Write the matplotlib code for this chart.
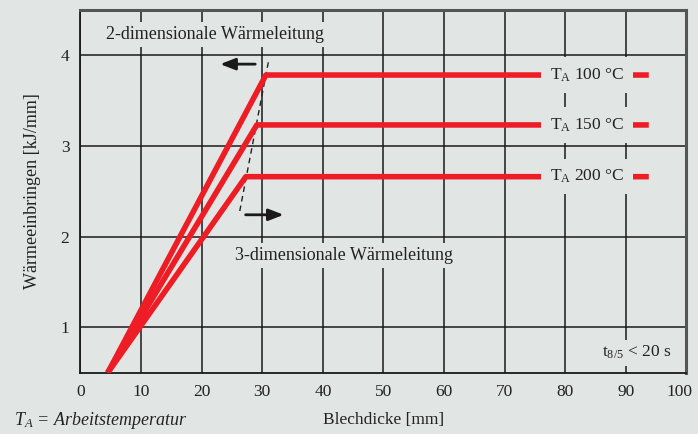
import matplotlib.pyplot as plt
import matplotlib.transforms as mtransforms
import numpy as np

plt.rcParams['font.family'] = ['Liberation Serif', 'DejaVu Serif']
plt.rcParams['mathtext.fontset'] = 'custom'
plt.rcParams['mathtext.rm'] = 'Liberation Serif'
plt.rcParams['mathtext.it'] = 'Liberation Serif:italic'

# Wärmeeinbringen-Kurven je Arbeitstemperatur
temps = ['100', '150', '200']
curve_x = [[4.5, 30.6, 93.8],
           [4.5, 29.1, 93.8],
           [4.5, 27.3, 93.8]]
curve_y = [[0.5, 3.78, 3.78],
           [0.5, 3.23, 3.23],
           [0.5, 2.66, 2.66]]
label_x = 83.6

# Grenze 2-/3-dimensionale Wärmeleitung
border_x = [31.0, 26.2]
border_y = [3.92, 2.25]

xticks = [0, 10, 20, 30, 40, 50, 60, 70, 80, 90, 100]
yticks = [1, 2, 3, 4]

bg = '#e1e5e3'
red = '#ee1c25'
ink = '#222222'

fig = plt.figure(figsize=(6.98, 4.34), dpi=100, facecolor=bg)
ax = fig.add_axes([0.1153, 0.1412, 0.868, 0.8365])
ax.set_facecolor(bg)
ax.set_xlim(0, 100)
ax.set_ylim(0.5, 4.5)
ax.set_xticks(xticks)
ax.set_yticks(yticks)
ax.grid(True, color='#1a1a1a', linewidth=1.1)
ax.set_axisbelow(True)
ax.tick_params(length=0, labelsize=12.5, pad=8, colors=ink)
for s in ['left', 'bottom']:
    ax.spines[s].set_color('#1a1a1a')
    ax.spines[s].set_linewidth(1.3)
for s in ['top', 'right']:
    ax.spines[s].set_color('#555555')
    ax.spines[s].set_linewidth(2.2)

# letzte Beschriftung etwas nach links, damit sie im Bild bleibt
last = ax.get_xticklabels()[-1]
last.set_transform(last.get_transform() + mtransforms.ScaledTranslation(-5 / 72, 0, fig.dpi_scale_trans))

for t, xs, ys in zip(temps, curve_x, curve_y):
    ax.plot(xs, ys, color=red, linewidth=4.0, solid_capstyle='butt', zorder=3)
    ax.text(label_x, ys[-1], r'T$_{\mathrm{A}}$ ' + t + ' °C', ha='center', va='center',
            fontsize=12.5, color=ink, zorder=4,
            bbox=dict(facecolor=bg, edgecolor='none', pad=6.5))

ax.plot(border_x, border_y, color=ink, linewidth=1, linestyle=(0, (4, 3)), zorder=2)
ax.annotate('', xy=(22.6, 3.9), xytext=(29.3, 3.9),
            arrowprops=dict(arrowstyle='-|>,head_length=0.9,head_width=0.35', color='#1a1a1a', lw=2))
ax.annotate('', xy=(34.0, 2.24), xytext=(26.8, 2.24),
            arrowprops=dict(arrowstyle='-|>,head_length=0.9,head_width=0.35', color='#1a1a1a', lw=2))

ax.text(22.2, 4.23, '2-dimensionale Wärmeleitung', ha='center', va='center', fontsize=13,
        color=ink, bbox=dict(facecolor=bg, edgecolor='none', pad=3))
ax.text(43.5, 1.79, '3-dimensionale Wärmeleitung', ha='center', va='center', fontsize=13,
        color=ink, bbox=dict(facecolor=bg, edgecolor='none', pad=3))
ax.text(91.8, 0.72, r't$_{\mathrm{8/5}}$ < 20 s', ha='center', va='center', fontsize=12.5,
        color=ink, bbox=dict(facecolor=bg, edgecolor='none', pad=3))

ax.set_xlabel('Blechdicke [mm]', fontsize=12.5, color=ink, labelpad=9)
ax.set_ylabel('Wärmeeinbringen [kJ/mm]', fontsize=13, color=ink, labelpad=14)

fig.text(0.02, 0.03, r'$T_A$ = Arbeitstemperatur', fontsize=13, style='italic',
         color=ink, va='center')

fig.savefig('out.png', dpi=100, facecolor=bg)
